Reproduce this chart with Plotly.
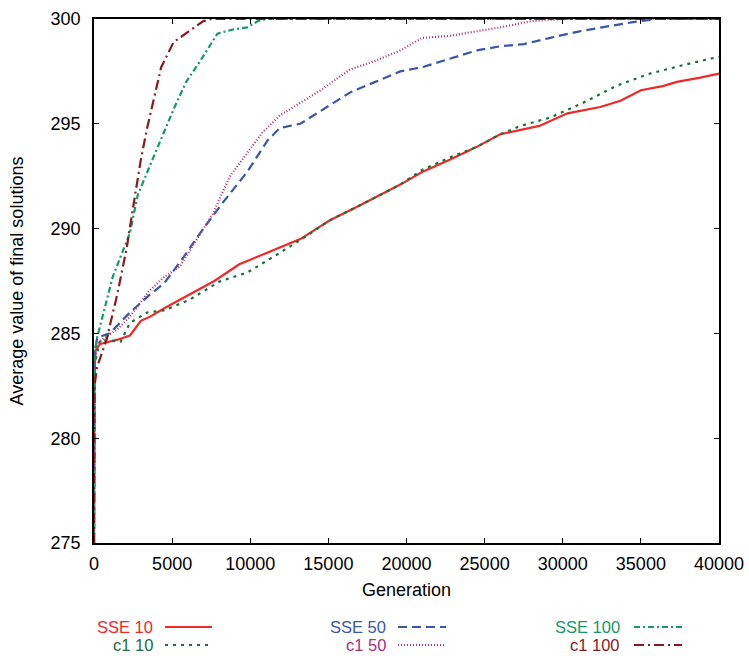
import plotly.graph_objects as go

# ---- data ----
sse10_x = [0, 30, 100, 400, 1500, 2300, 3000, 3600, 4500, 5500, 6800, 7700, 9300, 10600, 12000, 13200,
           15100, 17000, 19600, 21000, 22800, 24500, 26000, 28500, 30300, 32400, 33700, 35000, 36400,
           37300, 38800, 40000]
sse10_y = [275, 283.0, 284.2, 284.5, 284.7, 284.9, 285.6, 285.8, 286.2, 286.6, 287.1, 287.5, 288.3, 288.7,
           289.1, 289.5, 290.4, 291.1, 292.1, 292.7, 293.3, 293.9, 294.5, 294.9, 295.5, 295.8, 296.1,
           296.6, 296.8, 297.0, 297.2, 297.4]

c110_x = [0, 30, 400, 1700, 2300, 3400, 4500, 6100, 8100, 9800, 11800, 13500, 15100, 17000, 19600, 21000,
          22800, 24500, 26000, 27300, 29200, 31300, 33400, 35600, 37700, 40000]
c110_y = [275, 283.5, 284.7, 284.6, 285.5, 286.0, 286.1, 286.6, 287.5, 287.9, 288.8, 289.6, 290.4, 291.1,
          292.1, 292.8, 293.4, 293.9, 294.5, 294.9, 295.3, 296.0, 296.8, 297.4, 297.8, 298.2]

sse50_x = [0, 30, 100, 200, 1000, 2300, 3500, 4500, 5700, 6800, 8200, 9800, 11100, 11900, 13200, 14500,
           16400, 18000, 19600, 21000, 22800, 24500, 26000, 27500, 29200, 31000, 32500, 34500, 36000, 40000]
sse50_y = [275, 283.5, 284.3, 284.8, 285.0, 286.0, 286.8, 287.4, 288.6, 289.8, 291.2, 292.7, 294.2, 294.8,
           295.0, 295.6, 296.5, 297.0, 297.5, 297.7, 298.1, 298.5, 298.7, 298.8, 299.1, 299.4, 299.6,
           299.85, 300, 300]

c150_x = [0, 30, 100, 500, 1500, 2300, 3500, 4500, 5500, 7600, 8700, 10800, 11900, 13000, 14500, 16400,
          18000, 19600, 21000, 22800, 24500, 26000, 28000, 30000, 40000]
c150_y = [275, 283.5, 284.4, 284.7, 285.2, 285.8, 287.0, 287.7, 288.2, 290.7, 292.5, 294.6, 295.4, 295.9,
          296.6, 297.6, 298.0, 298.5, 299.1, 299.2, 299.4, 299.6, 299.9, 300, 300]

sse100_x = [0, 30, 200, 600, 1200, 2300, 2800, 3800, 5100, 5900, 6800, 7900, 8900, 9800, 10500, 11000, 40000]
sse100_y = [275, 284.0, 284.8, 286.0, 287.7, 289.8, 291.6, 293.4, 295.7, 297.0, 298.0, 299.3, 299.5, 299.6,
            299.9, 300, 300]

c1100_x = [0, 30, 200, 800, 1500, 2100, 2500, 3000, 3400, 4300, 5100, 6200, 7000, 7500, 40000]
c1100_y = [275, 282.5, 283.4, 284.7, 286.9, 289.1, 291.0, 293.3, 294.8, 297.7, 298.9, 299.5, 299.9, 300, 300]

names = ["SSE 10", "c1 10", "SSE 50", "c1 50", "SSE 100", "c1 100"]
xs = [sse10_x, c110_x, sse50_x, c150_x, sse100_x, c1100_x]
ys = [sse10_y, c110_y, sse50_y, c150_y, sse100_y, c1100_y]
colors = ["#f02828", "#1a6e3c", "#3a56a8", "#a8307a", "#129a68", "#8a1a1e"]
dashes = ["solid", "3px,5px", "9px,5px", "1px,2px", "6px,3px,2px,3px", "10px,4px,2px,4px"]

x_ticks = [0, 5000, 10000, 15000, 20000, 25000, 30000, 35000, 40000]
y_ticks = [275, 280, 285, 290, 295, 300]

FONT = "Liberation Sans, Arial, sans-serif"

fig = go.Figure()
for x, y, n, c, d in zip(xs, ys, names, colors, dashes):
    fig.add_trace(go.Scatter(x=x, y=y, mode="lines", name=n, showlegend=False,
                             line=dict(color=c, width=2.2, dash=d)))

# custom legend below the plot: text right-aligned, line sample to its right
PLOT_L, PLOT_W, PLOT_B, PLOT_H = 94, 625, 543, 524
col_text_right = [155, 388, 622]
col_sample = [(165, 212), (398, 446), (634, 682)]
row_y = [627, 645]
for i, (n, c, d) in enumerate(zip(names, colors, dashes)):
    col, row = i // 2, i % 2
    py = row_y[row]
    yp = (PLOT_B - py) / PLOT_H
    fig.add_annotation(x=(col_text_right[col] - PLOT_L) / PLOT_W, y=yp, xref="paper", yref="paper",
                       text=n, showarrow=False, xanchor="right", yanchor="middle",
                       font=dict(family=FONT, size=16.5, color=c))
    x0, x1 = col_sample[col]
    fig.add_shape(type="line", xref="paper", yref="paper",
                  x0=(x0 - PLOT_L) / PLOT_W, x1=(x1 - PLOT_L) / PLOT_W, y0=yp, y1=yp,
                  line=dict(color=c, width=2, dash=d))

axis_common = dict(showline=True, linecolor="black", linewidth=1.5, mirror="allticks",
                   ticks="inside", ticklen=5, tickcolor="black", tickwidth=1,
                   showgrid=False, zeroline=False, automargin=False,
                   tickfont=dict(family=FONT, size=18, color="black"))

fig.update_xaxes(range=[0, 40000], tickvals=x_ticks, ticktext=[str(v) for v in x_ticks],
                 ticklabelstandoff=4,
                 title=dict(text="Generation", font=dict(family=FONT, size=18, color="black"), standoff=10),
                 **axis_common)
fig.update_yaxes(range=[275, 300], tickvals=y_ticks, ticktext=[str(v) for v in y_ticks],
                 ticklabelstandoff=8,
                 title=dict(text="Average value of final solutions",
                            font=dict(family=FONT, size=18, color="black"), standoff=22),
                 **axis_common)

fig.update_layout(width=749, height=656, plot_bgcolor="white", paper_bgcolor="white",
                  margin=dict(l=94, r=30, t=19, b=113, autoexpand=False), showlegend=False)

fig.write_html("out.html", config={"displayModeBar": False},
               post_script="document.body.style.margin='0';document.body.style.padding='0';")
